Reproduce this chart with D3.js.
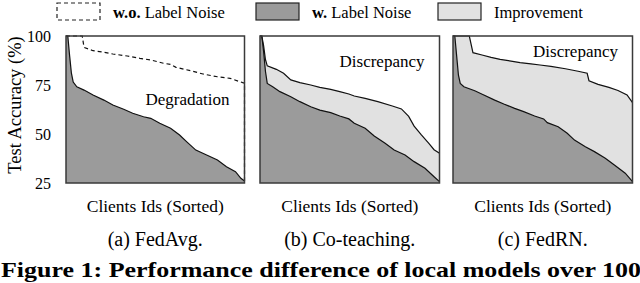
<!DOCTYPE html>
<html>
<head>
<meta charset="utf-8">
<script src="https://cdn.jsdelivr.net/npm/d3@7"></script>
<style>
  body { margin: 0; background: #fff; }
  svg { display: block; font-family: "Liberation Serif", "Times New Roman", serif; }
</style>
</head>
<body>
<div id="chart"></div>
<script>
// [client rank (sorted), test accuracy %]
var fedAvgNoisy = [[0,100],[1,100],[2,90],[3,81],[4,76.5],[6,74.1],[10,72.4],[15,69.9],[21,67.3],[26,64.8],[32,62.6],[37,60.6],[43,58.8],[47,58],[52,55.5],[58,52.9],[63,49.5],[67,46],[72,41.8],[78,39.3],[84,36.7],[89,33.3],[94,30.8],[97,27.4],[99,26]]
var fedAvgClean = [[0,100],[9,100],[10,94.2],[15,92.5],[21,91.7],[26,90.8],[34,89.8],[41,88.6],[47,87.8],[54,86.1],[58,85.5],[61,84],[69,82.3],[76,80.6],[84,79.2],[91,78.4],[98,76.2],[99,76]]
var coteachNoisy = [[0,100],[1,100],[2,92],[3,82],[4,75.8],[7,74.1],[11,71.6],[17,69],[22,66.5],[28,63.9],[33,62.2],[39,60.9],[44,59.2],[49,57.7],[52,55.5],[58,52.9],[63,49],[69,45.3],[74,41.8],[80,39.3],[85,35.9],[91,32.5],[96,28.2],[99,25.7]]
var coteachImproved = [[0,100],[1,100],[2,95],[3,88],[4,84.8],[9,83],[13,81],[17,77.6],[22,76.2],[28,75],[33,73.8],[39,72.8],[44,71.6],[49,70.4],[52,69.4],[58,68.2],[65,66.5],[73,64.3],[78,62.8],[82,59],[85,54],[89,49.5],[93,45.3],[96,42],[99,40.2]]
var fedrnNoisy = [[0,100],[1,100],[2,90],[3,80],[4,75.8],[6,74.1],[12,72.1],[17,69.9],[23,67.3],[28,65.3],[34,63.1],[39,61.4],[45,59.2],[50,57.7],[52,55.8],[58,53.7],[63,50.4],[67,46.9],[73,43.5],[78,41],[84,37.6],[89,34.2],[95,30],[99,25.7]]
var fedrnImproved = [[0,100],[9,100],[11,91.5],[16,90.3],[21,89.1],[26,88.1],[32,87.2],[37,86.4],[43,85.8],[48,85.2],[54,84.5],[62,83.3],[69,82],[74,81],[75,77.2],[80,75.3],[86,73.8],[91,72.2],[96,69.9],[99,66]]

var yTicks = [25, 50, 75, 100]
var captions = ["(a) FedAvg.", "(b) Co-teaching.", "(c) FedRN."]
var notes = ["Degradation", "Discrepancy", "Discrepancy"]
var legendLabels = [["w.o.", " Label Noise"], ["w.", " Label Noise"], ["", "Improvement"]]

var conf = {
  top: 36, bottom: 183,
  panels: [[66, 244.5], [260, 439.5], [453, 632.5]],
  dark: "#9b9b9b",
  light: "#e1e1e1",
  noteX: [187.5, 382, 575.5],
  noteY: [104.5, 66.5, 56.5]
}

var svg = d3.select("#chart").append("svg")
    .attr("width", 640).attr("height", 283)

var y = d3.scaleLinear().domain([25, 100]).range([conf.bottom, conf.top])

var series = [
  {noisy: fedAvgNoisy, upper: fedAvgClean, dashed: true},
  {noisy: coteachNoisy, upper: coteachImproved, dashed: false},
  {noisy: fedrnNoisy, upper: fedrnImproved, dashed: false}
]

series.forEach(function(s, k) {
  var x = d3.scaleLinear().domain([0, 99]).range(conf.panels[k])
  var area = d3.area().x(d => x(d[0])).y0(y(25)).y1(d => y(d[1]))
  var line = d3.line().x(d => x(d[0])).y(d => y(d[1]))
  var g = svg.append("g")

  if (!s.dashed) {
    g.append("path").attr("d", area(s.upper)).attr("fill", conf.light)
  }
  g.append("path").attr("d", area(s.noisy)).attr("fill", conf.dark)
  g.append("path").attr("d", line(s.noisy))
    .attr("fill", "none").attr("stroke", "#111").attr("stroke-width", 1.2)
  if (s.dashed) {
    // outline of the clean run, closed down to the bottom at the right end
    var last = s.upper[s.upper.length - 1]
    g.append("path").attr("d", line(s.upper.concat([[last[0], 25]])))
      .attr("fill", "none").attr("stroke", "#111").attr("stroke-width", 1.2)
      .attr("stroke-dasharray", "4,3")
  } else {
    g.append("path").attr("d", line(s.upper))
      .attr("fill", "none").attr("stroke", "#111").attr("stroke-width", 1.2)
  }

  // frame
  g.append("rect")
    .attr("x", x(0)).attr("y", y(100))
    .attr("width", x(99) - x(0)).attr("height", y(25) - y(100))
    .attr("fill", "none").attr("stroke", "#3a3a3a").attr("stroke-width", 1.5)

  g.append("text")
    .attr("x", conf.noteX[k]).attr("y", conf.noteY[k])
    .attr("text-anchor", "middle").attr("font-size", 17)
    .text(notes[k])

  g.append("text")
    .attr("x", (x(0) + x(99)) / 2).attr("y", 212)
    .attr("text-anchor", "middle").attr("font-size", 17.5)
    .text("Clients Ids (Sorted)")

  g.append("text")
    .attr("x", (x(0) + x(99)) / 2).attr("y", 246)
    .attr("text-anchor", "middle").attr("font-size", 20)
    .text(captions[k])

  if (k == 0) {
    var axis = d3.axisLeft(y).tickValues(yTicks).tickSize(0).tickPadding(15)
    var ag = svg.append("g").attr("transform", "translate(" + x(0) + ",0)").call(axis)
    ag.select(".domain").remove()
    ag.selectAll("text").attr("font-family", "Liberation Serif").attr("font-size", 16).attr("fill", "#000")
  }
})

svg.append("text")
  .attr("transform", "translate(21,105) rotate(-90)")
  .attr("text-anchor", "middle").attr("font-size", 18.5)
  .text("Test Accuracy (%)")

// legend
var legX = [57, 256, 438]
var leg = svg.append("g")
legendLabels.forEach(function(lbl, i) {
  var r = leg.append("rect")
    .attr("x", legX[i]).attr("y", 3).attr("width", 43).attr("height", 17)
    .attr("stroke", "#222").attr("stroke-width", 1.2)
  if (i == 0) r.attr("fill", "none").attr("stroke-dasharray", "4,3")
  else r.attr("fill", i == 1 ? conf.dark : conf.light)
  var t = leg.append("text")
    .attr("x", legX[i] + 56).attr("y", 18).attr("font-size", 16.5)
  if (lbl[0]) t.append("tspan").attr("font-weight", "bold").text(lbl[0])
  t.append("tspan").text(lbl[1])
})

svg.append("text")
  .attr("x", 1).attr("y", 277)
  .attr("font-size", 21).attr("font-weight", "bold")
  .attr("textLength", 640).attr("lengthAdjust", "spacingAndGlyphs")
  .text("Figure 1: Performance difference of local models over 100")
</script>
</body>
</html>
